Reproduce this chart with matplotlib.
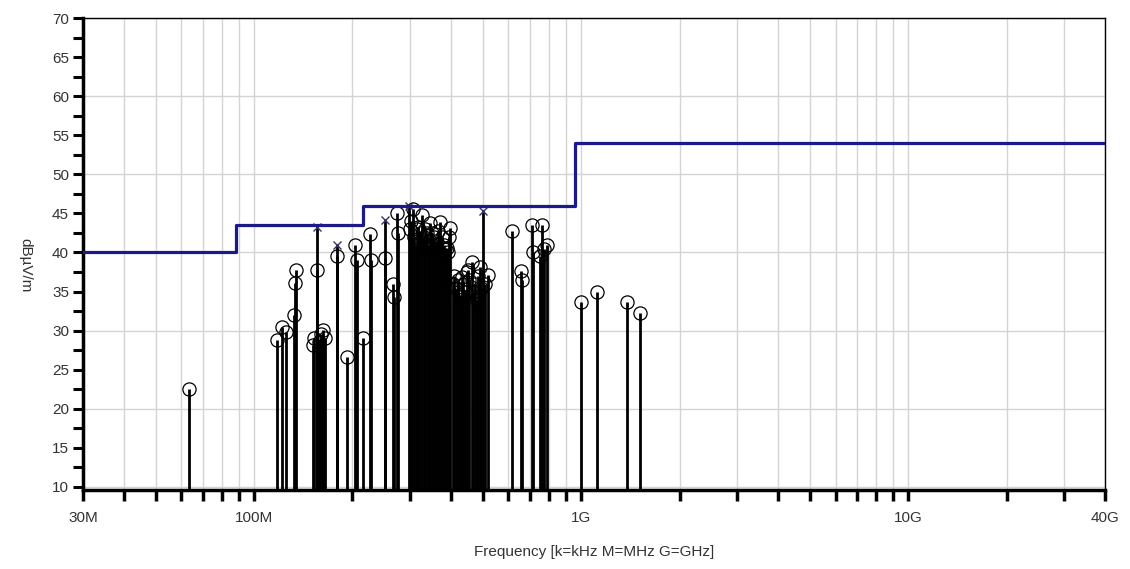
import numpy as np
import matplotlib
matplotlib.use("Agg")
from matplotlib import pyplot as plt
from matplotlib.ticker import FixedLocator, FuncFormatter, MultipleLocator

plt.rcParams['font.family'] = ['Liberation Sans', 'DejaVu Sans']

# limit line (MHz, dBuV/m)
limit_freq = [30, 88, 216, 960, 40000]
limit_lvl = [40, 43.5, 46, 54, 54]

# peak measurements (circles)
pk_freq = [63.3, 117.6, 121.5, 125, 132.6, 133.5, 134.2,
           151, 153, 156, 158, 160, 163, 165,
           179, 192, 204, 206, 215, 226, 228,
           252, 266, 268, 273, 275,
           300, 303, 306, 309, 312, 315, 318, 322, 326, 330, 334, 338, 342,
           345, 350, 355, 360, 365, 370, 375, 380, 385, 388, 393, 396, 398,
           405, 410, 415, 420, 425, 428, 432, 437, 442, 447, 451, 455,
           463, 468, 475, 480, 485, 491, 495, 510, 520,
           614, 656, 660, 707, 712, 750, 758, 770, 785,
           1000, 1120, 1380, 1510]
pk_lvl = [22.5, 28.8, 30.4, 29.8, 32.0, 36.1, 37.8,
          28.1, 29.0, 37.8, 28.5, 29.6, 30.1, 29.0,
          39.6, 26.6, 41.0, 39.0, 29.1, 42.4, 39.0,
          39.3, 35.9, 34.3, 45.0, 42.5,
          43.0, 44.0, 45.6, 42.0, 41.0, 43.0, 43.2, 42.5, 44.8, 42.0, 43.0, 42.5, 41.0,
          43.8, 42.5, 42.0, 41.5, 42.8, 43.9, 42.0, 41.0, 40.6, 40.6, 40.0, 42.0, 43.1,
          36.0, 37.0, 35.5, 36.5, 34.5, 34.3, 36.8, 36.0, 35.0, 37.5, 37.8, 36.5,
          38.8, 35.0, 36.0, 33.9, 37.0, 38.2, 35.5, 36.0, 37.1,
          42.7, 37.6, 36.5, 43.5, 40.0, 39.5, 43.5, 40.5, 41.0,
          33.6, 34.9, 33.7, 32.3]

# quasi-peak measurements (x)
qp_freq = [155.8, 179, 252, 298, 502]
qp_lvl = [43.3, 41.0, 44.2, 46.0, 45.3]

fig = plt.figure(figsize=(11.3, 5.69), dpi=100)
ax = fig.add_axes([83 / 1130, 1 - 490 / 569, 1022 / 1130, 472 / 569])

ybot = 9.6
ax.set_xscale('log')
ax.set_xlim(30, 40000)
ax.set_ylim(ybot, 70)

# grid at every 1..9 per decade and every 10 dB
xt = [m * 10 ** e for e in range(1, 5) for m in range(1, 10)]
xt = [v for v in xt if 30 <= v <= 40000]
for v in xt:
    ax.axvline(v, color='#d4d4d4', lw=1, zorder=0)
for v in range(10, 71, 10):
    ax.axhline(v, color='#d4d4d4', lw=1, zorder=0)

# stems
ax.vlines(pk_freq, ybot, pk_lvl, color='black', lw=2.0, zorder=2)
ax.vlines(qp_freq, ybot, qp_lvl, color='black', lw=2.0, zorder=2)
ax.plot(pk_freq, pk_lvl, 'o', ms=9.5, mfc='none', mec='black', mew=0.9, zorder=3)
ax.plot(qp_freq, qp_lvl, 'x', ms=6, mec='#333366', mew=1.0, zorder=3)

# limit line
ax.step(limit_freq, limit_lvl, where='post', color='#1a1a8a', lw=2.3, zorder=4)

labels = {30: '30M', 100: '100M', 1000: '1G', 10000: '10G', 40000: '40G'}
ax.xaxis.set_major_locator(FixedLocator(xt))
ax.xaxis.set_minor_locator(FixedLocator([]))
ax.xaxis.set_major_formatter(FuncFormatter(lambda v, p: labels.get(int(round(v)), '')))
ax.yaxis.set_major_locator(MultipleLocator(5))
ax.yaxis.set_minor_locator(MultipleLocator(2.5))

ax.tick_params(axis='x', which='major', direction='out', length=8, width=2.5,
               labelsize=11, labelcolor='#333333', pad=7)
ax.tick_params(axis='y', which='both', direction='out', length=7, width=2.2,
               labelsize=11, labelcolor='#333333', pad=3)

for s in ['left', 'bottom']:
    ax.spines[s].set_linewidth(2.5)
for s in ['top', 'right']:
    ax.spines[s].set_linewidth(1.0)

fig.text(25 / 1130, 1 - 265 / 569, 'dBµV/m', rotation=270, ha='center', va='center',
         fontsize=11, color='#333333')
fig.text(594 / 1130, 1 - 552 / 569, 'Frequency [k=kHz M=MHz G=GHz]', ha='center',
         va='center', fontsize=11, color='#333333')

fig.savefig('out.png', dpi=100)
